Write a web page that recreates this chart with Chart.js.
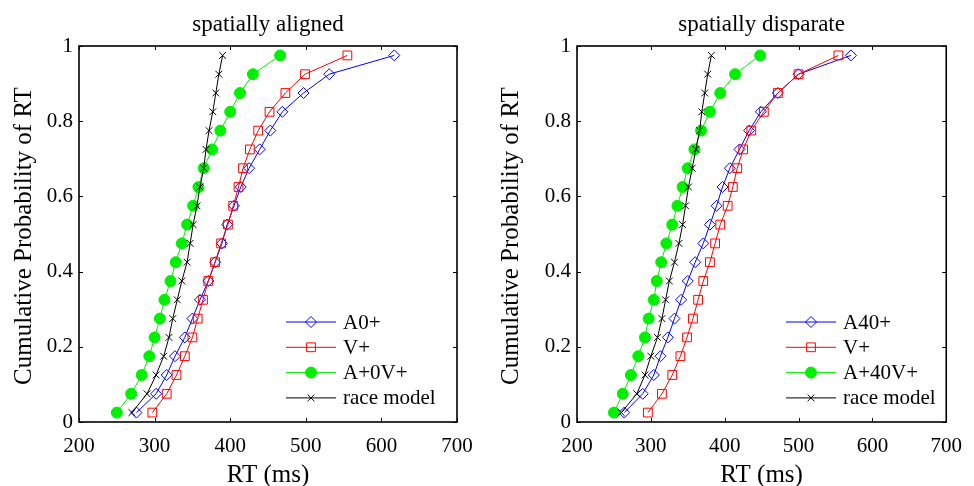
<!DOCTYPE html>
<html>
<head>
<meta charset="utf-8">
<title>Cumulative RT distributions</title>
<script src="https://cdn.jsdelivr.net/npm/chart.js@4.4.0/dist/chart.umd.min.js"></script>
<style>
  body { margin: 0; background: #fff; }
  .panel { position: absolute; top: 0; width: 487px; height: 486px; }
</style>
</head>
<body>
<div class="panel" style="left:0"><canvas id="aligned"></canvas></div>
<div class="panel" style="left:487px"><canvas id="disparate"></canvas></div>
<script>
// cumulative probability levels (same for every curve)
var quantiles = [0.025, 0.075, 0.125, 0.175, 0.225, 0.275, 0.325, 0.375, 0.425, 0.475,
                 0.525, 0.575, 0.625, 0.675, 0.725, 0.775, 0.825, 0.875, 0.925, 0.975];

// RT quantiles (ms), spatially aligned
var alignedA    = [276, 302, 316, 327, 340, 350, 360, 371, 380, 389, 396, 405, 414, 425, 439, 453, 469, 497, 531, 617];
var alignedV    = [297, 316, 329, 340, 350, 357, 364, 371, 380, 388, 397, 404, 411, 417, 426, 437, 452, 473, 499, 555];
var alignedAV   = [250, 269, 283, 293, 300, 307, 313, 321, 328, 336, 343, 351, 358, 365, 376, 387, 400, 413, 430, 466];
var alignedRace = [270, 290, 302, 312, 319, 324, 330, 336, 343, 347, 351, 356, 360, 365, 368, 372, 377, 381, 385, 390];

// RT quantiles (ms), spatially disparate
var disparateA    = [264, 289, 304, 313, 323, 332, 341, 350, 360, 371, 380, 389, 397, 407, 420, 433, 449, 472, 500, 571];
var disparateV    = [296, 315, 329, 340, 349, 357, 364, 371, 380, 387, 394, 404, 411, 417, 425, 436, 453, 472, 500, 554];
var disparateAV   = [250, 262, 273, 283, 292, 297, 304, 308, 314, 321, 329, 336, 343, 350, 359, 368, 380, 394, 414, 448];
var disparateRace = [260, 281, 292, 300, 309, 315, 320, 325, 332, 338, 343, 347, 351, 356, 361, 366, 369, 373, 377, 382];

var xTicks = [200, 300, 400, 500, 600, 700];
var yTicks = [0, 0.2, 0.4, 0.6, 0.8, 1];

var serif = "'Liberation Serif', 'Times New Roman', serif";

function points(rts) {
    return rts.map(function (rt, i) { return { x: rt, y: quantiles[i] }; });
}

function series(label, rts, color, style, radius, filled, order) {
    return {
        label: label,
        data: points(rts),
        borderColor: color,
        backgroundColor: color,
        borderWidth: 1,
        pointStyle: style,
        pointRadius: radius,
        pointBorderWidth: 1,
        pointBorderColor: color,
        pointBackgroundColor: filled ? color : 'rgba(0,0,0,0)',
        pointHoverRadius: radius,
        tension: 0,
        order: order
    };
}

// box with inward ticks on all sides, plus titles and legend
var framePlugin = {
    id: 'frame',
    afterDatasetsDraw: function (chart, args, opts) {
        var ctx = chart.ctx;
        var a = chart.chartArea;
        var xs = chart.scales.x, ys = chart.scales.y;
        ctx.save();

        // tick marks
        ctx.strokeStyle = '#000';
        ctx.lineWidth = 1;
        ctx.beginPath();
        xTicks.forEach(function (t) {
            var px = Math.round(xs.getPixelForValue(t)) + 0.5;
            ctx.moveTo(px, a.bottom); ctx.lineTo(px, a.bottom - 4);
            ctx.moveTo(px, a.top); ctx.lineTo(px, a.top + 4);
        });
        yTicks.forEach(function (t) {
            var py = Math.round(ys.getPixelForValue(t)) + 0.5;
            ctx.moveTo(a.left, py); ctx.lineTo(a.left + 4, py);
            ctx.moveTo(a.right, py); ctx.lineTo(a.right - 4, py);
        });
        ctx.stroke();

        ctx.lineWidth = 1.6;
        ctx.strokeRect(a.left, a.top, a.right - a.left, a.bottom - a.top);

        // legend
        var lg = opts.legend;
        ctx.font = '21px ' + serif;
        ctx.textAlign = 'left';
        ctx.textBaseline = 'middle';
        chart.data.datasets.forEach(function (ds, i) {
            var y = lg.y + i * 25.3;
            ctx.strokeStyle = ds.borderColor;
            ctx.lineWidth = 1;
            ctx.beginPath();
            ctx.moveTo(lg.x, y); ctx.lineTo(lg.x + 50, y);
            ctx.stroke();
            ctx.fillStyle = ds.pointBackgroundColor;
            ctx.strokeStyle = ds.pointBorderColor;
            Chart.helpers.drawPoint(ctx, {
                pointStyle: ds.pointStyle,
                radius: ds.pointRadius,
                borderWidth: 1,
                rotation: 0
            }, lg.x + 25, y);
            ctx.fillStyle = '#000';
            ctx.fillText(ds.label, lg.x + 57, y + 1);
        });

        // titles
        var cx = (a.left + a.right) / 2;
        ctx.fillStyle = '#000';
        ctx.textAlign = 'center';
        ctx.textBaseline = 'alphabetic';
        ctx.font = '23px ' + serif;
        ctx.fillText(opts.title, cx, 31);
        ctx.font = '25px ' + serif;
        ctx.fillText('RT (ms)', cx, 482);

        ctx.translate(31, (a.top + a.bottom) / 2 + 2);
        ctx.rotate(-Math.PI / 2);
        ctx.fillText('Cumulative Probability of RT', 0, 0);
        ctx.restore();
    }
};

function makePanel(id, title, labels, a, v, av, race, yWidth, padRight, legendX) {
    new Chart(document.getElementById(id), {
        type: 'line',
        data: {
            datasets: [
                series(labels[0], a, '#0000ff', 'rectRot', 5.5, false, 4),
                series(labels[1], v, '#ff0000', 'rect', 6.2, false, 3),
                series(labels[2], av, '#00f000', 'circle', 5.5, true, 2),
                series(labels[3], race, '#000000', 'crossRot', 4.8, false, 1)
            ]
        },
        options: {
            responsive: true,
            maintainAspectRatio: false,
            animation: false,
            events: [],
            layout: { padding: { top: 46, right: padRight, left: 0, bottom: 0 } },
            scales: {
                x: {
                    type: 'linear',
                    min: 200,
                    max: 700,
                    grid: { display: false, drawTicks: false },
                    border: { display: false },
                    afterBuildTicks: function (s) { s.ticks = xTicks.map(function (v) { return { value: v }; }); },
                    afterFit: function (s) { s.height = 64; },
                    ticks: { padding: 12, color: '#000', font: { family: serif, size: 21 }, maxRotation: 0 }
                },
                y: {
                    type: 'linear',
                    min: 0,
                    max: 1,
                    grid: { display: false, drawTicks: false },
                    border: { display: false },
                    afterBuildTicks: function (s) { s.ticks = yTicks.map(function (v) { return { value: v }; }); },
                    afterFit: function (s) { s.width = yWidth; },
                    ticks: {
                        padding: 6,
                        color: '#000',
                        font: { family: serif, size: 21 },
                        callback: function (v) { return String(Math.round(v * 10) / 10); }
                    }
                }
            },
            plugins: {
                legend: { display: false },
                tooltip: { enabled: false },
                frame: { title: title, legend: { x: legendX, y: 322 } }
            }
        },
        plugins: [framePlugin]
    });
}

makePanel('aligned', 'spatially aligned', ['A0+', 'V+', 'A+0V+', 'race model'],
    alignedA, alignedV, alignedAV, alignedRace, 79, 30, 286);
makePanel('disparate', 'spatially disparate', ['A40+', 'V+', 'A+40V+', 'race model'],
    disparateA, disparateV, disparateAV, disparateRace, 90, 17, 299);
</script>
</body>
</html>
